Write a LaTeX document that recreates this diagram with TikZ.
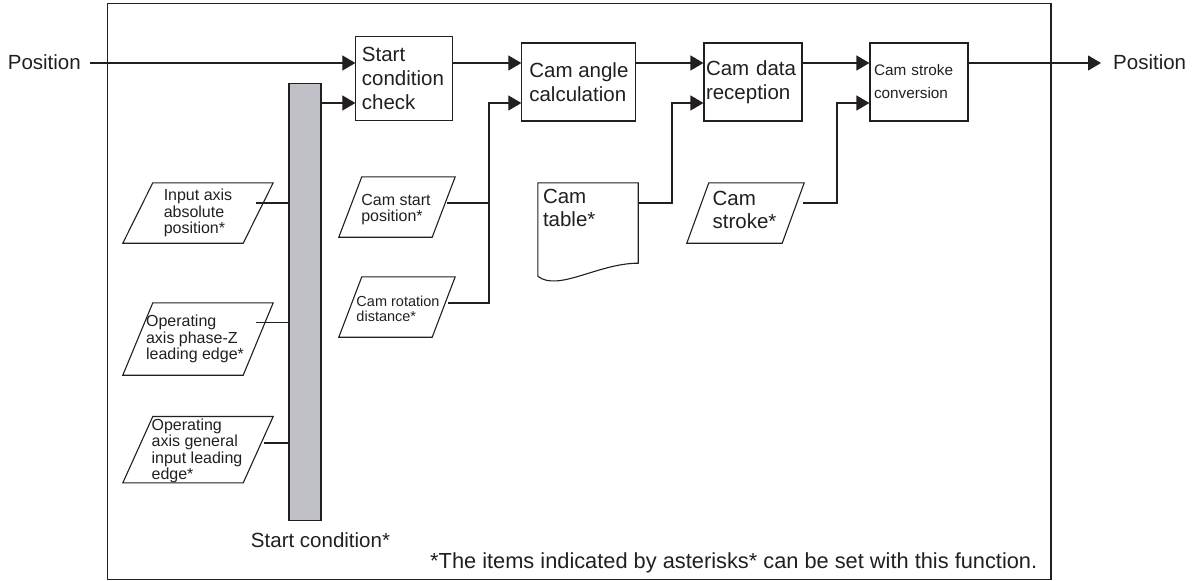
\documentclass[tikz,border=0pt]{standalone}
\usepackage{fontspec}
\setmainfont{Liberation Sans}
\usetikzlibrary{arrows.meta,calc}
\hyphenpenalty=10000
\exhyphenpenalty=10000
\definecolor{ink}{RGB}{35,31,32}
\definecolor{barfill}{RGB}{191,193,199}
\tikzset{
  ln/.style={draw=ink,line width=1.1pt},
  arr/.style={ln,-{Triangle[length=13pt,width=15pt]}},
  bigf/.style={font=\fontsize{20.5}{23.5}\selectfont},
  smallf/.style={font=\fontsize{16}{16.5}\selectfont},
  procbox/.style={draw=ink,line width=1.1pt,rectangle,align=left,text=ink,inner ysep=0pt},
  parabody/.style={rectangle,inner sep=0pt,draw=none},
  lbl/.style={text=ink,align=left,inner sep=0pt},
}
\begin{document}
\begin{tikzpicture}[x=1pt,y=-1pt]
\useasboundingbox (0,0) rectangle (1195,581);
% frame
\draw[ln] (107.5,3.5) rectangle (1051,579.5);
\coordinate (top) at (0,63);
\coordinate (bot) at (0,103);
% texts
\node[lbl,bigf,anchor=east] (posL) at (81,62) {Position};
\node[lbl,bigf,anchor=west] (posR) at (1113,62) {Position};
\coordinate (pin) at (90,63);
% process boxes
\node[procbox,font=\fontsize{20.5}{24}\selectfont,minimum width=97pt,minimum height=84pt,inner xsep=6pt,text width=85pt] (sc) at (404.4,78.9) {Start\\condition\\check};
\node[procbox,bigf,minimum width=114pt,minimum height=78pt,inner xsep=2pt] (ca) at (578.9,82) {Cam angle\\calculation};
\node[procbox,bigf,minimum width=98pt,minimum height=78pt,inner xsep=2pt,text width=94pt] (cd) at (753,82) {Cam data\\reception};
\node[procbox,font=\fontsize{15.3}{23}\selectfont,minimum width=98pt,minimum height=78pt,inner xsep=4pt,text width=90pt] (cv) at (919,82) {Cam stroke\\conversion};
% start condition bar
\node[draw=ink,line width=1.1pt,fill=barfill,minimum width=32pt,minimum height=437.7pt,inner sep=0pt] (bar) at (305,301.9) {};
\node[lbl,bigf] (sclbl) at (320.5,540) {Start condition*};
% parallelograms (bodies)
\node[parabody,minimum width=120pt,minimum height=60pt,label={[lbl,smallf,name=p1t]center:Input axis\\absolute\\position*}] (p1) at (198,213) {};
\node[parabody,minimum width=120pt,minimum height=72pt,label={[lbl,smallf,name=p2t,xshift=-3pt]center:Operating\\axis phase-Z\\leading edge*}] (p2) at (198,339) {};
\node[parabody,minimum width=120pt,minimum height=66pt,label={[lbl,smallf,name=p3t,xshift=-1pt,yshift=-1.3pt]center:Operating\\axis general\\input leading\\edge*}] (p3) at (198,449.7) {};
\node[parabody,minimum width=93pt,minimum height=60pt,label={[lbl,smallf,name=p4t,yshift=-2.5pt,xshift=-1pt]center:Cam start\\position*}] (p4) at (397,207) {};
\node[parabody,minimum width=93pt,minimum height=60pt,label={[lbl,font=\fontsize{14.5}{15.5}\selectfont,name=p5t,yshift=-2pt,xshift=1pt]center:Cam rotation\\distance*}] (p5) at (397,307) {};
\node[parabody,minimum width=95pt,minimum height=60pt,label={[lbl,bigf,name=p6t,yshift=3pt,xshift=-1pt]center:Cam\\stroke*}] (p6) at (745.5,213) {};
\foreach \n/\s in {p1/15,p2/15,p3/15,p4/11.5,p5/11.5,p6/11}{
  \draw[ln] ([xshift=\s pt]\n.north west) -- ([xshift=\s pt]\n.north east) -- ([xshift=-\s pt]\n.south east) -- ([xshift=-\s pt]\n.south west) -- cycle;
}
% cam table document
\node[rectangle,inner sep=0pt,minimum width=100pt,minimum height=93pt,label={[lbl,bigf,name=tblt,anchor=north west,xshift=5pt,yshift=-6pt]north west:Cam\\table*}] (tbl) at (588,229.5) {};
\draw[ln] (tbl.north west) -- (tbl.north east) -- ([yshift=13pt]tbl.south east)
  .. controls ([xshift=-40pt,yshift=13pt]tbl.south east) and ([xshift=20pt,yshift=-16pt]tbl.south west) .. (tbl.south west) -- cycle;
% footnote
\node[lbl,font=\fontsize{21.8}{24}\selectfont,anchor=west] (note) at (430,563) {*The items indicated by asterisks* can be set with this function.};
% connector start points
\coordinate (o1) at (256,203);
\coordinate (o2) at (256,322.7);
\coordinate (o3) at (264,443);
\coordinate (o4) at (447,203);
\coordinate (o5) at (448,303);
\coordinate (o6) at (638,203);
\coordinate (o7) at (803,203);
\coordinate (j1) at (489,103);
\coordinate (j2) at (672,103);
\coordinate (j3) at (837,103);
% connectors
\draw[arr] (pin) -- (sc.west |- top);
\draw[arr] (bar.east |- bot) -- (sc.west |- bot);
\draw[arr] (sc.east |- top) -- (ca.west |- top);
\draw[arr] (ca.east |- top) -- (cd.west |- top);
\draw[arr] (cd.east |- top) -- (cv.west |- top);
\draw[arr] (cv.east |- top) -- ([xshift=-12pt]posR.west |- top);
\draw[ln] (o1) -- (bar.west |- o1);
\draw[ln] (o2) -- (bar.west |- o2);
\draw[ln] (o3) -- (bar.west |- o3);
\draw[ln] (o4) -- (j1 |- o4);
\draw[arr] (o5) -| (j1) -- (ca.west |- j1);
\draw[arr] (o6) -| (j2) -- (cd.west |- j2);
\draw[arr] (o7) -| (j3) -- (cv.west |- j3);
\end{tikzpicture}
\end{document}
